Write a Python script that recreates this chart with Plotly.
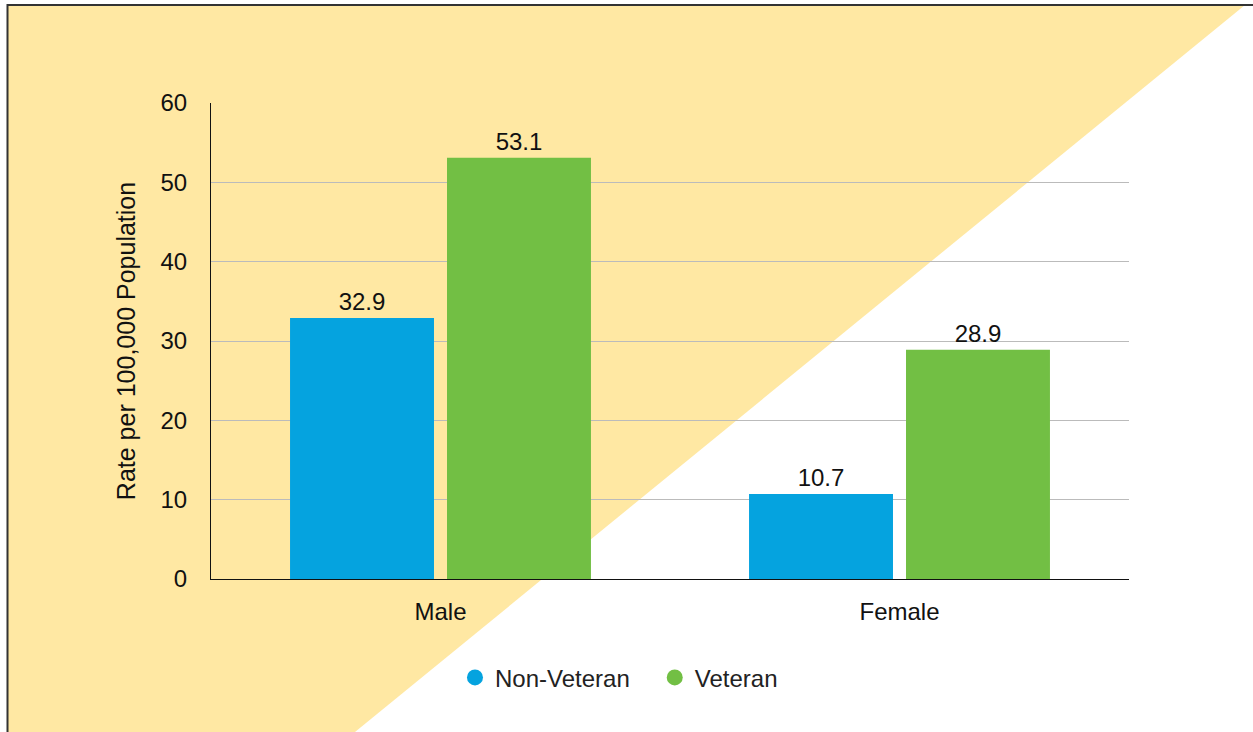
import plotly.graph_objects as go

categories = ["Male", "Female"]
non_veteran = [32.9, 10.7]
veteran = [53.1, 28.9]
series_names = ["Non-Veteran", "Veteran"]
colors = ["#05A3DF", "#72BF44"]
y_ticks = [0, 10, 20, 30, 40, 50, 60]

W, H = 1253, 732
L, R, T, B = 211, 124, 103, 153
pw, ph = W - L - R, H - T - B

def px(x):
    return (x - L) / pw

def py(y):
    return (H - B - y) / ph

FONT = "Liberation Sans, Arial, Helvetica, sans-serif"

fig = go.Figure()
for name, vals, col in zip(series_names, [non_veteran, veteran], colors):
    fig.add_trace(go.Bar(
        x=categories, y=vals, name=name, marker=dict(color=col, line=dict(width=0)),
        text=[f"{v:.1f}" for v in vals], textposition="outside",
        textfont=dict(size=24, color="#111111", family=FONT),
        cliponaxis=False, showlegend=False,
    ))
for i, (name, col) in enumerate(zip(series_names, colors)):
    label = name + ("\u00a0\u00a0\u00a0" if i == 0 else "")
    fig.add_trace(go.Scatter(
        x=[None], y=[None], mode="markers", name=label,
        marker=dict(color=col, size=20, symbol="circle"), showlegend=True,
    ))

# background yellow polygon
path = (f"M {px(8)},{py(5)} L {px(1245)},{py(5)} L {px(355)},{py(732)} "
        f"L {px(8)},{py(732)} Z")
shapes = [
    dict(type="path", xref="paper", yref="paper", path=path,
         fillcolor="#FFE8A3", line=dict(width=0), layer="below"),
    dict(type="line", xref="paper", yref="paper", x0=px(7), x1=px(1253),
         y0=py(5), y1=py(5), line=dict(color="#333333", width=2), layer="above"),
    dict(type="line", xref="paper", yref="paper", x0=px(7.5), x1=px(7.5),
         y0=py(4), y1=py(732), line=dict(color="#333333", width=2), layer="above"),
]

fig.update_layout(
    width=W, height=H,
    margin=dict(l=L, r=R, t=T, b=B),
    paper_bgcolor="white", plot_bgcolor="rgba(0,0,0,0)",
    barmode="group", bargap=0.316, bargroupgap=0.083,
    font=dict(family=FONT, size=24, color="#111111"),
    shapes=shapes,
    legend=dict(orientation="h", xref="container", yref="container",
                x=0.494, y=0.074, xanchor="center", yanchor="middle",
                font=dict(size=24, color="#222222"), itemwidth=30,
                bgcolor="rgba(0,0,0,0)", traceorder="normal"),
    showlegend=True,
)
fig.update_xaxes(showline=True, linecolor="#111111", linewidth=1.2,
                 ticks="outside", ticklen=11, tickcolor="rgba(0,0,0,0)",
                 tickfont=dict(size=24, color="#111111"), showgrid=False)
fig.update_yaxes(range=[0, 60], tickvals=y_ticks, showline=True,
                 linecolor="#111111", linewidth=1.2,
                 showgrid=True, gridcolor="#BBBBBB", gridwidth=1,
                 zeroline=False, ticks="outside", ticklen=18,
                 tickcolor="rgba(0,0,0,0)",
                 tickfont=dict(size=24, color="#111111"),
                 title=dict(text="Rate per 100,000 Population",
                            font=dict(size=25, color="#111111"), standoff=17))

fig.write_html("out.html")
